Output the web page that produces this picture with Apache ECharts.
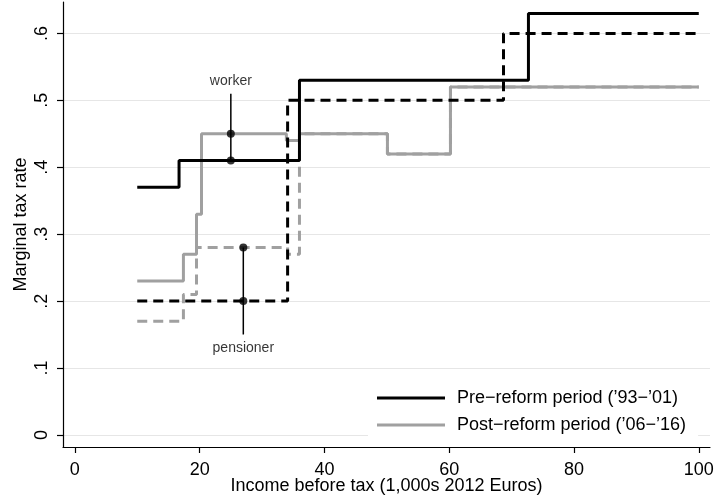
<!DOCTYPE html>
<html>
<head>
<meta charset="utf-8">
<title>Marginal tax rate by income</title>
<script src="https://cdn.jsdelivr.net/npm/echarts@6/dist/echarts.min.js"></script>
<style>
  html, body { margin: 0; padding: 0; background: #fff; }
  #chart { width: 714px; height: 501px; }
</style>
</head>
<body>
<div id="chart"></div>
<script>
// Tick labels
const incomeTicks = [0, 20, 40, 60, 80, 100];
const rateTicks = [0, 0.1, 0.2, 0.3, 0.4, 0.5, 0.6];

// Step schedules: income breakpoints (1,000s 2012 Euros) and the rate from each breakpoint on
const preWorkerIncome = [10, 16.7, 36, 72.7, 100];
const preWorkerRate = [0.37, 0.41, 0.53, 0.63, 0.63];

const prePensionerIncome = [10, 34.1, 68.7, 100];
const prePensionerRate = [0.20, 0.50, 0.60, 0.60];

const postWorkerIncome = [10, 17.4, 19.5, 20.3, 33.9, 36.0, 50.1, 60.2, 100];
const postWorkerRate = [0.23, 0.27, 0.33, 0.45, 0.44, 0.45, 0.42, 0.52, 0.52];

const postPensionerIncome = [10, 17.4, 19.5, 34.1, 36.0, 50.1, 60.2, 100];
const postPensionerRate = [0.17, 0.21, 0.28, 0.27, 0.45, 0.42, 0.52, 0.52];

// Marked example households: income, post-reform rate, pre-reform rate, pointer end, label position
const workerIncome = 25;
const workerRates = [0.45, 0.41];
const workerPointerEnd = 0.51;
const workerLabelRate = 0.529;

const pensionerIncome = 27;
const pensionerRates = [0.28, 0.20];
const pensionerPointerEnd = 0.15;
const pensionerLabelRate = 0.1295;

const legendNames = ["Pre\u2212reform period (\u201993\u2212\u201901)", "Post\u2212reform period (\u201906\u2212\u201916)"];

const BLACK = '#000000';
const GREY = '#a0a0a0';
const FONT = "'Liberation Sans', Arial, Helvetica, sans-serif";

function toPoints(xs, ys) {
  return xs.map((x, i) => [x, ys[i]]);
}

function stepSeries(name, xs, ys, color, dashed, z) {
  return {
    name: name,
    type: 'line',
    step: 'end',
    symbol: 'none',
    silent: true,
    z: z,
    data: toPoints(xs, ys),
    lineStyle: { color: color, width: 3, type: dashed ? [10, 6] : 'solid' }
  };
}

function pointerSeries(x, y0, y1) {
  return {
    type: 'line',
    symbol: 'none',
    silent: true,
    z: 10,
    data: [[x, y0], [x, y1]],
    lineStyle: { color: BLACK, width: 1.5 }
  };
}

function dotSeries(x, ys) {
  return {
    type: 'scatter',
    symbol: 'circle',
    symbolSize: 8,
    silent: true,
    z: 11,
    itemStyle: { color: BLACK },
    data: ys.map(y => [x, y])
  };
}

function labelSeries(x, y, text) {
  return {
    type: 'scatter',
    symbolSize: 0,
    silent: true,
    z: 12,
    data: [[x, y]],
    label: {
      show: true,
      position: 'inside',
      formatter: text,
      color: '#000',
      fontFamily: FONT,
      fontSize: 14
    }
  };
}

const chart = echarts.init(document.getElementById('chart'), null, { renderer: 'canvas' });

chart.setOption({
  animation: false,
  backgroundColor: '#ffffff',
  textStyle: { fontFamily: FONT },
  grid: { left: 63, top: 2, width: 647, height: 445, containLabel: false, outerBoundsMode: 'none' },
  xAxis: {
    type: 'value',
    min: -1.9,
    max: 101.8,
    name: 'Income before tax (1,000s 2012 Euros)',
    nameLocation: 'middle',
    nameGap: 30,
    nameMoveOverlap: false,
    nameTextStyle: { fontFamily: FONT, fontSize: 18, color: '#000' },
    axisLine: { show: true, onZero: false, lineStyle: { color: '#000', width: 1.2 } },
    axisTick: { show: true, length: 6, customValues: incomeTicks, lineStyle: { color: '#000', width: 1.2 } },
    axisLabel: { customValues: incomeTicks, margin: 14, fontFamily: FONT, fontSize: 18, color: '#000' },
    splitLine: { show: false }
  },
  yAxis: {
    type: 'value',
    min: -0.018,
    max: 0.647,
    name: 'Marginal tax rate',
    nameLocation: 'middle',
    nameGap: 33,
    nameMoveOverlap: false,
    nameRotate: 90,
    nameTextStyle: { fontFamily: FONT, fontSize: 18, color: '#000' },
    axisLine: { show: true, onZero: false, lineStyle: { color: '#000', width: 1.2 } },
    axisTick: { show: true, length: 6, customValues: rateTicks, lineStyle: { color: '#000', width: 1.2 } },
    axisLabel: {
      customValues: rateTicks,
      rotate: 90,
      margin: 12,
      fontFamily: FONT,
      fontSize: 18,
      color: '#000',
      formatter: v => (v === 0 ? '0' : String(v).replace(/^0/, ''))
    },
    splitLine: { show: true, lineStyle: { color: '#e6e6e6', width: 1.2 } }
  },
  legend: {
    orient: 'vertical',
    left: 368,
    top: 380,
    padding: [8, 12, 6, 9],
    backgroundColor: '#ffffff',
    icon: 'rect',
    itemWidth: 68,
    itemHeight: 3,
    itemGap: 7,
    selectedMode: false,
    textStyle: { fontFamily: FONT, fontSize: 18, color: '#000', lineHeight: 20, padding: [0, 0, 0, 7] },
    data: [
      { name: legendNames[0], itemStyle: { color: BLACK } },
      { name: legendNames[1], itemStyle: { color: GREY } }
    ]
  },
  series: [
    stepSeries('Post pensioner', postPensionerIncome, postPensionerRate, GREY, true, 2),
    stepSeries(legendNames[1], postWorkerIncome, postWorkerRate, GREY, false, 3),
    stepSeries('Pre pensioner', prePensionerIncome, prePensionerRate, BLACK, true, 4),
    stepSeries(legendNames[0], preWorkerIncome, preWorkerRate, BLACK, false, 5),
    pointerSeries(workerIncome, workerRates[1], workerPointerEnd),
    pointerSeries(pensionerIncome, pensionerRates[0], pensionerPointerEnd),
    dotSeries(workerIncome, workerRates),
    dotSeries(pensionerIncome, pensionerRates),
    labelSeries(workerIncome, workerLabelRate, 'worker'),
    labelSeries(pensionerIncome, pensionerLabelRate, 'pensioner')
  ]
});
</script>
</body>
</html>
